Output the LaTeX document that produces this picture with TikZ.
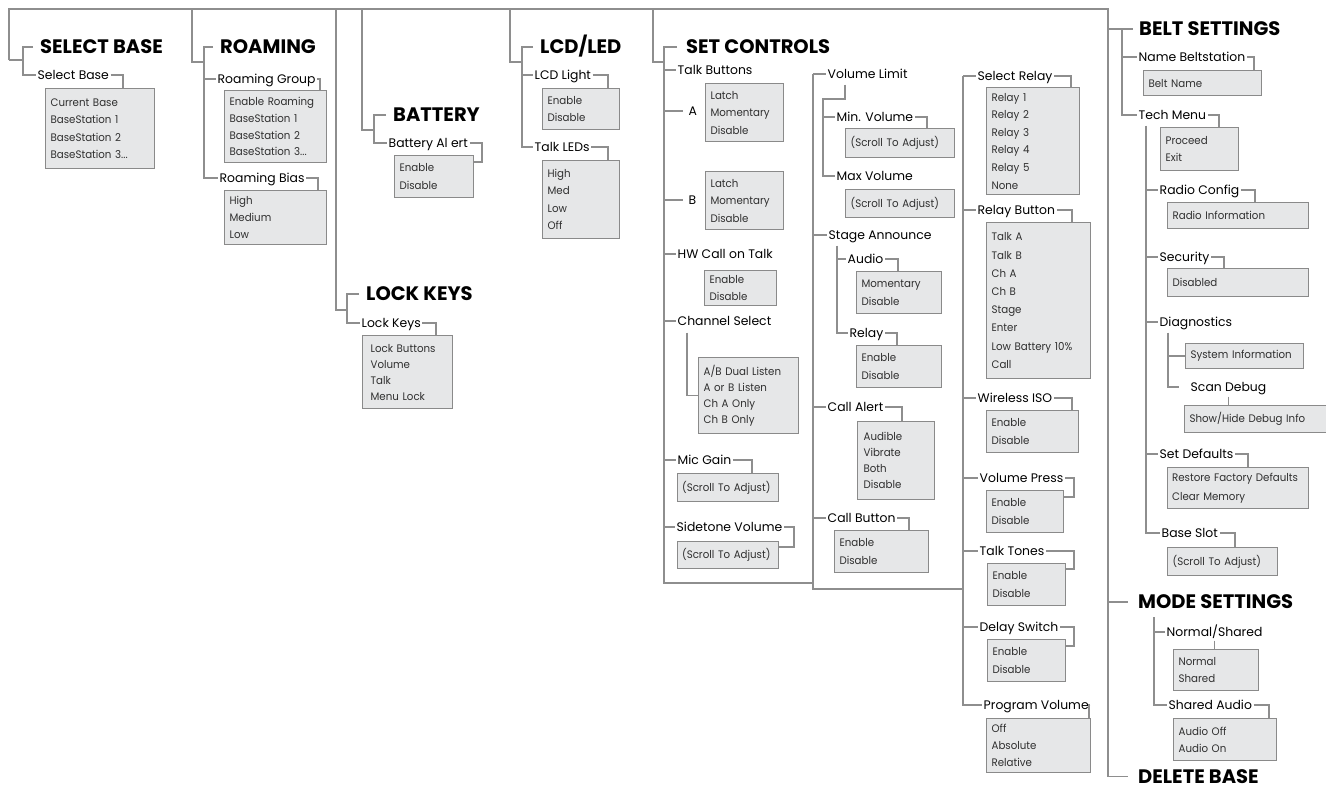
\documentclass[tikz,border=0pt]{standalone}
\usepackage{fontspec}
\setmainfont{Poppins}
\newfontfamily\itemfont{Poppins}[FakeStretch=0.94]
\hyphenpenalty=10000
\exhyphenpenalty=10000
\definecolor{lncol}{HTML}{8E8E8E}
\definecolor{bxcol}{HTML}{8A8A8A}
\definecolor{bxfill}{HTML}{E6E7E8}
\definecolor{itemcol}{HTML}{303030}
\begin{document}
\begin{tikzpicture}[x=1pt,y=-1pt,
  ln/.style={draw=lncol,line width=1.3pt},
  ttl/.style={anchor=west,font=\fontsize{19.5}{22}\selectfont\bfseries,inner xsep=0pt,inner ysep=0pt,text height=13.6pt,text depth=0pt},
  lab/.style={anchor=west,font=\fontsize{12.4}{14}\selectfont,inner xsep=1.5pt,inner ysep=0pt,text height=8.9pt,text depth=0pt},
  sp/.style={font=\itemfont\fontsize{10.9}{#1}\selectfont},
  bx/.style={anchor=north west,draw=bxcol,fill=bxfill,line width=1.2pt,align=left,inner xsep=5pt,inner ysep=0pt,sp=17.5,text=itemcol},
]
\useasboundingbox (0,0) rectangle (1326,790);

% ---------- SELECT BASE
\node[ttl] (sbT) at (40,47) {SELECT BASE};
\node[lab] (sbL) at (36,75) {Select Base};
\node[bx,text width=99pt,minimum height=80pt] (sbB) at (45,88) {Current Base\\BaseStation 1\\BaseStation 2\\BaseStation 3...};
% ---------- ROAMING
\node[ttl] (roT) at (220,47) {ROAMING};
\node[lab] (roL1) at (216,79) {Roaming Group};
\node[bx,text width=92pt,minimum height=72pt,sp=16.8] (roB1) at (224,90) {Enable Roaming\\BaseStation 1\\BaseStation 2\\BaseStation 3...};
\node[lab] (roL2) at (218,178) {Roaming Bias};
\node[bx,text width=92pt,minimum height=54pt,sp=16.8] (roB2) at (224,190) {High\\Medium\\Low};
% ---------- BATTERY
\node[ttl] (baT) at (393,115) {BATTERY};
\node[lab] (baL) at (387,143) {Battery Al ert};
\node[bx,text width=69pt,minimum height=42pt] (baB) at (394,155) {Enable\\Disable};
% ---------- LOCK KEYS
\node[ttl] (lkT) at (366,294) {LOCK KEYS};
\node[lab] (lkL) at (360,323) {Lock Keys};
\node[bx,text width=74pt,minimum height=73pt,inner xsep=8pt,sp=16] (lkB) at (362,335) {Lock Buttons\\Volume\\Talk\\Menu Lock};
% ---------- LCD/LED
\node[ttl] (lcT) at (540,47) {LCD/LED};
\node[lab] (lcL1) at (533,75) {LCD Light};
\node[bx,text width=67pt,minimum height=41pt] (lcB1) at (542,88) {Enable\\Disable};
\node[lab] (lcL2) at (533,147) {Talk LEDs};
\node[bx,text width=67pt,minimum height=78pt] (lcB2) at (542,160) {High\\Med\\Low\\Off};
% ---------- SET CONTROLS col 1
\node[ttl] (scT) at (686,47) {SET CONTROLS};
\node[lab] (tbL) at (676,70) {Talk Buttons};
\node[lab] (aL) at (687,111) {A};
\node[bx,text width=68pt,minimum height=58pt] (aB) at (705,83) {Latch\\Momentary\\Disable};
\node[lab] (bL) at (687,200) {B};
\node[bx,text width=68pt,minimum height=58pt] (bB) at (705,171) {Latch\\Momentary\\Disable};
\node[lab] (hwL) at (676,254) {HW Call on Talk};
\node[bx,text width=62pt,minimum height=35pt,sp=17] (hwB) at (704,270) {Enable\\Disable};
\node[lab] (csL) at (676,321) {Channel Select};
\node[bx,text width=90pt,minimum height=76pt,sp=16] (csB) at (698,357) {A/B Dual Listen\\A or B Listen\\Ch A Only\\Ch B Only};
\node[lab] (mgL) at (676,460) {Mic Gain};
\node[bx,text width=92pt,inner xsep=4.5pt,minimum height=28pt] (mgB) at (677,473) {(Scroll To Adjust)};
\node[lab] (svL) at (675,527) {Sidetone Volume};
\node[bx,text width=92pt,inner xsep=4.5pt,minimum height=27pt] (svB) at (677,541) {(Scroll To Adjust)};
% ---------- col 2
\node[lab] (vlL) at (826,74) {Volume Limit};
\node[lab] (mnL) at (835,117) {Min. Volume};
\node[bx,text width=99pt,minimum height=29pt] (mnB) at (845,128) {(Scroll To Adjust)};
\node[lab] (mxL) at (835,176) {Max Volume};
\node[bx,text width=99pt,minimum height=28pt] (mxB) at (845,189) {(Scroll To Adjust)};
\node[lab] (saL) at (827,235) {Stage Announce};
\node[lab] (auL) at (846,259) {Audio};
\node[bx,text width=75pt,minimum height=42pt] (auB) at (856,271) {Momentary\\Disable};
\node[lab] (rlL) at (848,333) {Relay};
\node[bx,text width=75pt,minimum height=42pt] (rlB) at (856,345) {Enable\\Disable};
\node[lab] (caL) at (826,407) {Call Alert};
\node[bx,text width=65pt,minimum height=78pt,inner xsep=6pt,sp=16] (caB) at (857,421) {Audible\\Vibrate\\Both\\Disable};
\node[lab] (cbL) at (826,518) {Call Button};
\node[bx,text width=84pt,minimum height=42pt] (cbB) at (834,530) {Enable\\Disable};
% ---------- col 3
\node[lab] (srL) at (976,76) {Select Relay};
\node[bx,text width=83pt,minimum height=107pt,sp=17.6] (srB) at (986,87) {Relay 1\\Relay 2\\Relay 3\\Relay 4\\Relay 5\\None};
\node[lab] (rbL) at (976,210) {Relay Button};
\node[bx,text width=94pt,minimum height=156pt,sp=18.2] (rbB) at (986,222) {Talk A\\Talk B\\Ch A\\Ch B\\Stage\\Enter\\Low Battery 10\%\\Call};
\node[lab] (wiL) at (976,398) {Wireless ISO};
\node[bx,text width=82pt,minimum height=42pt] (wiB) at (986,410) {Enable\\Disable};
\node[lab] (vpL) at (978,478) {Volume Press};
\node[bx,text width=67pt,minimum height=42pt] (vpB) at (986,490) {Enable\\Disable};
\node[lab] (ttL) at (978,551) {Talk Tones};
\node[bx,text width=68pt,minimum height=42pt] (ttB) at (987,563) {Enable\\Disable};
\node[lab] (dsL) at (978,627) {Delay Switch};
\node[bx,text width=68pt,minimum height=42pt] (dsB) at (987,639) {Enable\\Disable};
\node[lab] (pvL) at (982,705) {Program Volume};
\node[bx,text width=94pt,minimum height=54pt,sp=17] (pvB) at (986,718) {Off\\Absolute\\Relative};
% ---------- BELT SETTINGS
\node[ttl] (beT) at (1139,29) {BELT SETTINGS};
\node[lab] (nbL) at (1137,57) {Name Beltstation};
\node[bx,text width=108pt,minimum height=25pt] (nbB) at (1143,70) {Belt Name};
\node[lab] (tmL) at (1137,115) {Tech Menu};
\node[bx,text width=68pt,minimum height=43pt] (tmB) at (1160,127) {Proceed\\Exit};
\node[lab] (rcL) at (1158,190) {Radio Config};
\node[bx,text width=131pt,minimum height=26pt] (rcB) at (1167,202) {Radio Information};
\node[lab] (seL) at (1158,257) {Security};
\node[bx,text width=131pt,minimum height=28pt] (seB) at (1167,268) {Disabled};
\node[lab] (dgL) at (1158,322) {Diagnostics};
\node[bx,text width=108pt,minimum height=25pt] (siB) at (1185,343) {System Information};
\node[lab] (sdL) at (1189,387) {Scan Debug};
\node[bx,text width=190pt,minimum height=27pt] (shB) at (1184,405) {Show/Hide Debug Info};
\node[lab] (dfL) at (1158,454) {Set Defaults};
\node[bx,text width=132pt,inner xsep=4.5pt,minimum height=41pt,sp=18.5] (dfB) at (1167,467) {Restore Factory Defaults\\Clear Memory};
\node[lab] (bsL) at (1160,533) {Base Slot};
\node[bx,text width=100pt,minimum height=28pt] (bsB) at (1167,547) {(Scroll To Adjust)};
% ---------- MODE SETTINGS / DELETE BASE
\node[ttl] (moT) at (1138,602) {MODE SETTINGS};
\node[lab] (nsL) at (1165,632) {Normal/Shared};
\node[bx,text width=75pt,minimum height=41pt,sp=17] (nsB) at (1173,649) {Normal\\Shared};
\node[lab] (sAL) at (1167,705) {Shared Audio};
\node[bx,text width=93pt,minimum height=42pt,sp=17] (sAB) at (1173,718) {Audio Off\\Audio On};
\node[ttl] (deT) at (1138,776.5) {DELETE BASE};

% ================= connectors
% main top line and right spine
\draw[ln] (9,60) -- (9,9) -- (1108,9) |- ([xshift=-10pt]deT.west);
% SELECT BASE
\draw[ln] (9,60) -- (23,60);
\draw[ln] ([xshift=-7pt]sbT.west) -- (sbT.west -| 23,0) |- (sbL.west);
\draw[ln] (sbL.east) -| (sbB.north -| 123,0);
% ROAMING
\draw[ln] (192,9) |- (204,62);
\draw[ln] ([xshift=-7pt]roT.west) -- (roT.west -| 204,0) |- (roL2.west);
\draw[ln] (roL1.west -| 204,0) -- (roL1.west);
\draw[ln] (roL1.east) -| (roB1.north -| 320,0);
\draw[ln] (roL2.east) -| (roB2.north -| 318,0);
% LOCK KEYS
\draw[ln] (336,9) |- (347,310);
\draw[ln] ([xshift=-7pt]lkT.west) -- (lkT.west -| 347,0) |- (lkL.west);
\draw[ln] (lkL.east) -| (lkB.north -| 436,0);
% BATTERY
\draw[ln] (362,9) |- (374,130);
\draw[ln] ([xshift=-7pt]baT.west) -- (baT.west -| 374,0) |- (baL.west);
\draw[ln] (baL.east) -| (482,162) -- (baB.east |- 0,162);
% LCD/LED
\draw[ln] (510,9) |- (522,62);
\draw[ln] ([xshift=-7pt]lcT.west) -- (lcT.west -| 522,0) |- (lcL2.west);
\draw[ln] (lcL1.west -| 522,0) -- (lcL1.west);
\draw[ln] (lcL1.east) -| (lcB1.north -| 608,0);
\draw[ln] (lcL2.east) -| (lcB2.north -| 608,0);
% SET CONTROLS col 1
\draw[ln] (653,9) |- (664,62);
\draw[ln] ([xshift=-9pt]scT.west) -- (scT.west -| 664,0) -- (664,583) -- (813,583);
\foreach \n in {tbL,hwL,csL,mgL,svL} \draw[ln] (\n.west -| 664,0) -- (\n.west);
\draw[ln] (aL.west -| 664,0) -- ([xshift=-4pt]aL.west);
\draw[ln] (bL.west -| 664,0) -- ([xshift=-4pt]bL.west);
\draw[ln] ([xshift=11pt,yshift=-7pt]csL.south west) |- (csB.west);
\draw[ln] (mgL.east) -| (mgB.north -| 752,0);
\draw[ln] (svL.east) -| (794,547) -- (svB.east |- 0,547);
% col 2
\draw[ln] (vlL.west -| 813,0) -- (813,589) -- (963,589);
\foreach \n in {vlL,saL,caL,cbL} \draw[ln] (\n.west -| 813,0) -- (\n.west);
\draw[ln] ([xshift=19pt,yshift=-6pt]vlL.south west) |- (823,99) |- (mxL.west);
\draw[ln] (mnL.west -| 823,0) -- (mnL.west);
\draw[ln] (mnL.east) -| (mnB.north -| 927,0);
\draw[ln] ([xshift=10pt,yshift=-6pt]saL.south west) |- (rlL.west);
\draw[ln] (auL.west -| 837,0) -- (auL.west);
\draw[ln] (auL.east) -| (auB.north -| 898,0);
\draw[ln] (rlL.east) -| (rlB.north -| 897,0);
\draw[ln] (caL.east) -| (caB.north -| 902,0);
\draw[ln] (cbL.east) -| (cbB.north -| 909,0);
% col 3
\draw[ln] (srL.west -| 963,0) -- (srL.west);
\draw[ln] (srL.west -| 963,0) |- (pvL.west);
\foreach \n in {rbL,wiL,vpL,ttL,dsL} \draw[ln] (\n.west -| 963,0) -- (\n.west);
\draw[ln] (srL.east) -| (srB.north -| 1071,0);
\draw[ln] (rbL.east) -| (rbB.north -| 1072,0);
\draw[ln] (wiL.east) -| (wiB.north -| 1072,0);
\draw[ln] (vpL.east) -| (1074,497) -- (vpB.east |- 0,497);
\draw[ln] (ttL.east) -| (1074,569) -- (ttB.east |- 0,569);
\draw[ln] (dsL.east) -| (1074,646) -- (dsB.east |- 0,646);
\draw[ln] (pvL.east) -| (pvB.north -| 1089,0);
% BELT SETTINGS
\draw[ln] (beT.west -| 1108,0) -- ([xshift=-6pt]beT.west);
\draw[ln] (beT.west -| 1122,0) |- (tmL.west);
\draw[ln] (nbL.west -| 1122,0) -- (nbL.west);
\draw[ln] (nbL.east) -| (nbB.north -| 1254,0);
\draw[ln] (tmL.east) -| (tmB.north -| 1219,0);
\draw[ln] ([xshift=9pt,yshift=-6pt]tmL.south west) |- (bsL.west);
\foreach \n in {rcL,seL,dgL,dfL} \draw[ln] (\n.west -| 1146,0) -- (\n.west);
\draw[ln] (rcL.east) -| (rcB.north -| 1255,0);
\draw[ln] (seL.east) -| (seB.north -| 1224,0);
\draw[ln] (dfL.east) -| (dfB.north -| 1248,0);
\draw[ln] (bsL.east) -| (bsB.north -| 1235,0);
\draw[ln] ([xshift=10pt,yshift=-6pt]dgL.south west) |- ([xshift=-10pt]sdL.west);
\draw[ln] (siB.west -| 1168,0) -- (siB.west);
\draw[ln] ([yshift=-5pt]sdL.south) -- (sdL.south |- shB.north);
% MODE SETTINGS
\draw[ln] (moT.west -| 1108,0) -- ([xshift=-10pt]moT.west);
\draw[ln] ([xshift=16pt,yshift=-8pt]moT.south west) |- (sAL.west);
\draw[ln] (nsL.west -| 1154,0) -- (nsL.west);
\draw[ln] ([yshift=-4pt]nsL.south) -- (nsL.south |- nsB.north);
\draw[ln] (sAL.east) -| (sAB.north -| 1269,0);
\end{tikzpicture}
\end{document}
